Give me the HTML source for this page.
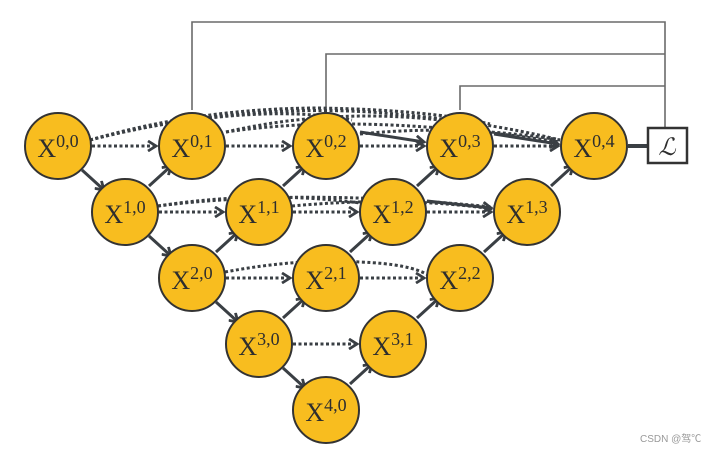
<!DOCTYPE html>
<html><head><meta charset="utf-8"><style>
html,body{margin:0;padding:0;background:#fff;}
svg{display:block;}
text{font-family:"Liberation Serif","DejaVu Serif",serif;fill:#2e2e2e;}
</style></head><body>
<svg width="702" height="453" viewBox="0 0 702 453" xmlns="http://www.w3.org/2000/svg">
<defs>
<marker id="a" markerWidth="12" markerHeight="12" refX="9" refY="6" orient="auto" markerUnits="userSpaceOnUse">
<path d="M1,1 L9,6 L1,11" fill="none" stroke="#3a3f44" stroke-width="2.8"/>
</marker>
</defs>
<g fill="none" stroke="#6a6a6a" stroke-width="1.6">
<polyline points="192,110 192,22 665,22 665,128"/>
<polyline points="326,110 326,54 665,54"/>
<polyline points="460,110 460,86 665,86"/>
</g>
<g fill="none" stroke="#3a3f44" stroke-width="3" stroke-dasharray="3,2.5">
<path d="M90,140 Q160,122 230,116 Q300,110 352,120"/>
<path d="M90,140 Q200,108 320,108 Q430,110 490,124"/>
<path d="M90,140 Q230,104 370,112 Q480,120 560,140"/>
<path d="M226,132 Q330,108 440,120"/>
<path d="M226,132 Q360,112 560,142"/>
<path d="M360,134 Q460,124 560,140"/>
<path d="M158,206 Q260,190 360,203"/>
<path d="M158,206 Q300,188 493,207"/>
<path d="M292,206 Q400,196 493,209"/>
<path d="M225,272 Q300,258 360,262 Q410,264 428,275"/>
<path d="M92,146 L156,146" marker-end="url(#a)"/>
<path d="M226,146 L290,146" marker-end="url(#a)"/>
<path d="M360,146 L424,146" marker-end="url(#a)"/>
<path d="M494,146 L558,146" marker-end="url(#a)"/>
<path d="M159,212 L223,212" marker-end="url(#a)"/>
<path d="M293,212 L357,212" marker-end="url(#a)"/>
<path d="M427,212 L491,212" marker-end="url(#a)"/>
<path d="M226,278 L290,278" marker-end="url(#a)"/>
<path d="M360,278 L424,278" marker-end="url(#a)"/>
<path d="M293,344 L357,344" marker-end="url(#a)"/>
</g>
<g fill="none" stroke="#3a3f44" stroke-width="3">
<path d="M360,132 L424,142" marker-end="url(#a)"/>
<path d="M494,134 L558,144" marker-end="url(#a)"/>
<path d="M427,201 L491,208" marker-end="url(#a)"/>
<path d="M82,170 L104,190" marker-end="url(#a)"/>
<path d="M149,236 L171,256" marker-end="url(#a)"/>
<path d="M216,302 L238,322" marker-end="url(#a)"/>
<path d="M283,368 L305,388" marker-end="url(#a)"/>
<path d="M149,186 L171,166" marker-end="url(#a)"/>
<path d="M283,186 L305,166" marker-end="url(#a)"/>
<path d="M417,186 L439,166" marker-end="url(#a)"/>
<path d="M551,186 L573,166" marker-end="url(#a)"/>
<path d="M216,252 L238,232" marker-end="url(#a)"/>
<path d="M350,252 L372,232" marker-end="url(#a)"/>
<path d="M484,252 L506,232" marker-end="url(#a)"/>
<path d="M283,318 L305,298" marker-end="url(#a)"/>
<path d="M417,318 L439,298" marker-end="url(#a)"/>
<path d="M350,384 L372,364" marker-end="url(#a)"/>
<path d="M628,146 L648,146" stroke-width="4"/>
</g>
<g fill="#f8bd1f" stroke="#333" stroke-width="2">
<circle cx="58" cy="146" r="33"/><circle cx="192" cy="146" r="33"/><circle cx="326" cy="146" r="33"/><circle cx="460" cy="146" r="33"/><circle cx="594" cy="146" r="33"/>
<circle cx="125" cy="212" r="33"/><circle cx="259" cy="212" r="33"/><circle cx="393" cy="212" r="33"/><circle cx="527" cy="212" r="33"/>
<circle cx="192" cy="278" r="33"/><circle cx="326" cy="278" r="33"/><circle cx="460" cy="278" r="33"/>
<circle cx="259" cy="344" r="33"/><circle cx="393" cy="344" r="33"/>
<circle cx="326" cy="410" r="33"/>
</g>
<g font-size="26" text-anchor="middle">
<text x="58" y="157">X<tspan font-size="18" dy="-10">0,0</tspan></text>
<text x="192" y="157">X<tspan font-size="18" dy="-10">0,1</tspan></text>
<text x="326" y="157">X<tspan font-size="18" dy="-10">0,2</tspan></text>
<text x="460" y="157">X<tspan font-size="18" dy="-10">0,3</tspan></text>
<text x="594" y="157">X<tspan font-size="18" dy="-10">0,4</tspan></text>
<text x="125" y="223">X<tspan font-size="18" dy="-10">1,0</tspan></text>
<text x="259" y="223">X<tspan font-size="18" dy="-10">1,1</tspan></text>
<text x="393" y="223">X<tspan font-size="18" dy="-10">1,2</tspan></text>
<text x="527" y="223">X<tspan font-size="18" dy="-10">1,3</tspan></text>
<text x="192" y="289">X<tspan font-size="18" dy="-10">2,0</tspan></text>
<text x="326" y="289">X<tspan font-size="18" dy="-10">2,1</tspan></text>
<text x="460" y="289">X<tspan font-size="18" dy="-10">2,2</tspan></text>
<text x="259" y="355">X<tspan font-size="18" dy="-10">3,0</tspan></text>
<text x="393" y="355">X<tspan font-size="18" dy="-10">3,1</tspan></text>
<text x="326" y="421">X<tspan font-size="18" dy="-10">4,0</tspan></text>
</g>
<rect x="648" y="128" width="39" height="35" fill="#fff" stroke="#333" stroke-width="2.5"/>
<text x="667" y="155" font-size="24" font-style="italic" text-anchor="middle">ℒ</text>
<text x="640" y="442" font-size="10" style="font-family:'Liberation Sans','Noto Sans CJK SC',sans-serif;fill:#999">CSDN @驾℃</text>
</svg>
</body></html>
